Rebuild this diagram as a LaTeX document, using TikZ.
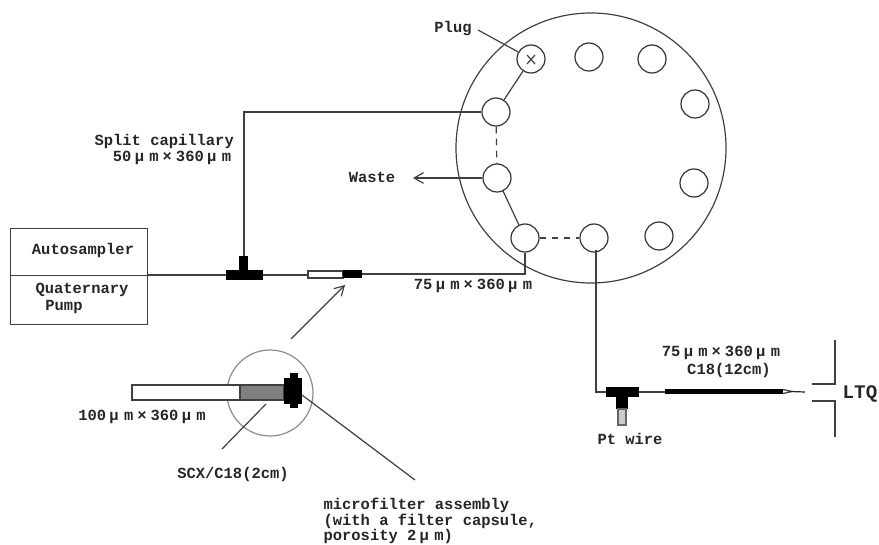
\documentclass[tikz,border=0pt]{standalone}
\usepackage{fontspec}
\setmainfont{Liberation Mono}
\usetikzlibrary{arrows.meta,positioning,calc}
\tikzset{every picture/.style={line width=0.9pt}}
\tikzset{
  lbl/.style={inner sep=0pt,font=\fontsize{11.6}{13}\selectfont\bfseries,text=black!85},
  port/.style={circle,draw=black!80,fill=white,minimum size=28pt*0.75,inner sep=0pt},
  pipe/.style={draw=black!75},
  openhead/.style={-{Straight Barb[length=7pt,width=8pt]}},
  gapdash/.style={dash pattern=on 5pt off 4pt}
}
\newcommand{\um}{\hspace{2.5pt}μ\hspace{4pt}m}
\newcommand{\tms}{\hspace{3pt}×\hspace{3pt}}
\begin{document}
\begin{tikzpicture}[x=0.75pt,y=-0.75pt]
    \useasboundingbox (0,0) rectangle (879,545);

    % rotor
    \draw[black!75] (591,148) circle (135);
    \node[port] (plug) at (531,59) {};
    \node[port] (pa) at (589,57) {};
    \node[port] (pb) at (652,59) {};
    \node[port] (pc) at (695,104) {};
    \node[port] (pd) at (694,183) {};
    \node[port] (pe) at (659,236) {};
    \node[port] (pout) at (594,238) {};
    \node[port] (pin) at (525,238) {};
    \node[port] (pwaste) at (497,178) {};
    \node[port] (psplit) at (496,112) {};
    \draw[black!75] (527,55) -- (535,64) (535,55) -- (527,64);

    % rotor links
    \draw[pipe] (plug) -- (psplit);
    \draw[pipe,gapdash] (psplit) -- (pwaste);
    \draw[pipe] (pwaste) -- (pin);
    \draw[pipe,gapdash] (pin) -- (pout);

    % pump
    \node[draw=black!75,minimum width=137*0.75pt,minimum height=47*0.75pt,anchor=north west,inner sep=0pt] (auto) at (10,228) {};
    \node[draw=black!75,minimum width=137*0.75pt,minimum height=49*0.75pt,anchor=north west,inner sep=0pt] (pump) at (10,275) {};
    \node[lbl] at (83,251) {Autosampler};
    \node[lbl] at (82,290) {Quaternary};
    \node[lbl] at (64,307) {Pump};

    % split tee
    \coordinate (teea) at (244,275);
    \coordinate (filt) at (308,275);
    \coordinate (filtb) at (362,274);
    \draw[pipe] (pump.north east) -- (teea) -- (filt);
    \draw[pipe] (teea) |- (psplit);
    \fill[black] (226,270) rectangle (263,280);
    \fill[black] (239,256) rectangle (248,272);

    % trap column
    \draw[black!75,fill=white] (308,271) rectangle (343,278);
    \fill[black] (343,270) rectangle (362,278);
    \draw[pipe] (filtb) -| (pin);

    % enlarged view
    \draw[black!45] (270,393) circle (43);
    \draw[black!75,fill=white] (132,385) rectangle (240,400);
    \draw[black!75,fill=black!50] (240,385) rectangle (284,400);
    \fill[black] (284,378) rectangle (302,404);
    \fill[black] (290,373) rectangle (298,408);
    \coordinate (arra) at (291,339);
    \coordinate (arrb) at (345,285);
    \draw[pipe,openhead] (arra) -- (arrb);
    \coordinate (scxa) at (266,404);
    \coordinate (scxb) at (222,449);
    \draw[pipe] (scxa) -- (scxb);
    \coordinate (mfa) at (302,395);
    \coordinate (mfb) at (415,480);
    \draw[pipe] (mfa) -- (mfb);

    % outlet
    \coordinate (outc) at (596,392);
    \coordinate (emit) at (665,392);
    \draw[pipe] (596,250) |- (emit);
    \fill[black] (606,387) rectangle (639,397);
    \fill[black] (616,396) rectangle (628,409);
    \draw[black!60,fill=black!20] (618,409) rectangle (626,425);
    \fill[black] (665,389) rectangle (783,394);
    \draw[black!75,fill=white] (783,389.5) -- (792,391.5) -- (783,393.5);
    \coordinate (tip) at (805,392);
    \draw[black!85] (790,391.5) -- (tip);

    % LTQ inlet
    \draw[pipe] (835,340) -- (835,384) -- (812,384);
    \draw[pipe] (835,437) -- (835,401) -- (812,401);
    \node[lbl,font=\fontsize{14.4}{16}\selectfont\bfseries] at (860,394) {LTQ};

    % labels
    \node[lbl] (plugl) at (453,29) {Plug};
    \draw[pipe] (478,30) -- (plug);
    \node[lbl] (wastel) at (372,177) {Waste};
    \coordinate (wasteend) at (413,178);
    \draw[pipe,openhead] (pwaste) -- (wasteend);
    \node[lbl,anchor=west] at (94,142) {Split capillary};
    \node[lbl] at (172,158) {50\um\tms360\um};
    \node[lbl] at (473,286) {75\um\tms360\um};
    \node[lbl] at (142,417) {100\um\tms360\um};
    \node[lbl] at (233,475) {SCX/C18(2cm)};
    \node[lbl,anchor=west] at (323,505) {microfilter assembly};
    \node[lbl,anchor=west] at (323,521) {(with a filter capsule,};
    \node[lbl,anchor=west] at (323,537) {porosity 2\um)};
    \node[lbl] at (721,353) {75\um\tms360\um};
    \node[lbl] at (729,371) {C18(12cm)};
    \node[lbl] at (630,439) {Pt wire};
\end{tikzpicture}
\end{document}
